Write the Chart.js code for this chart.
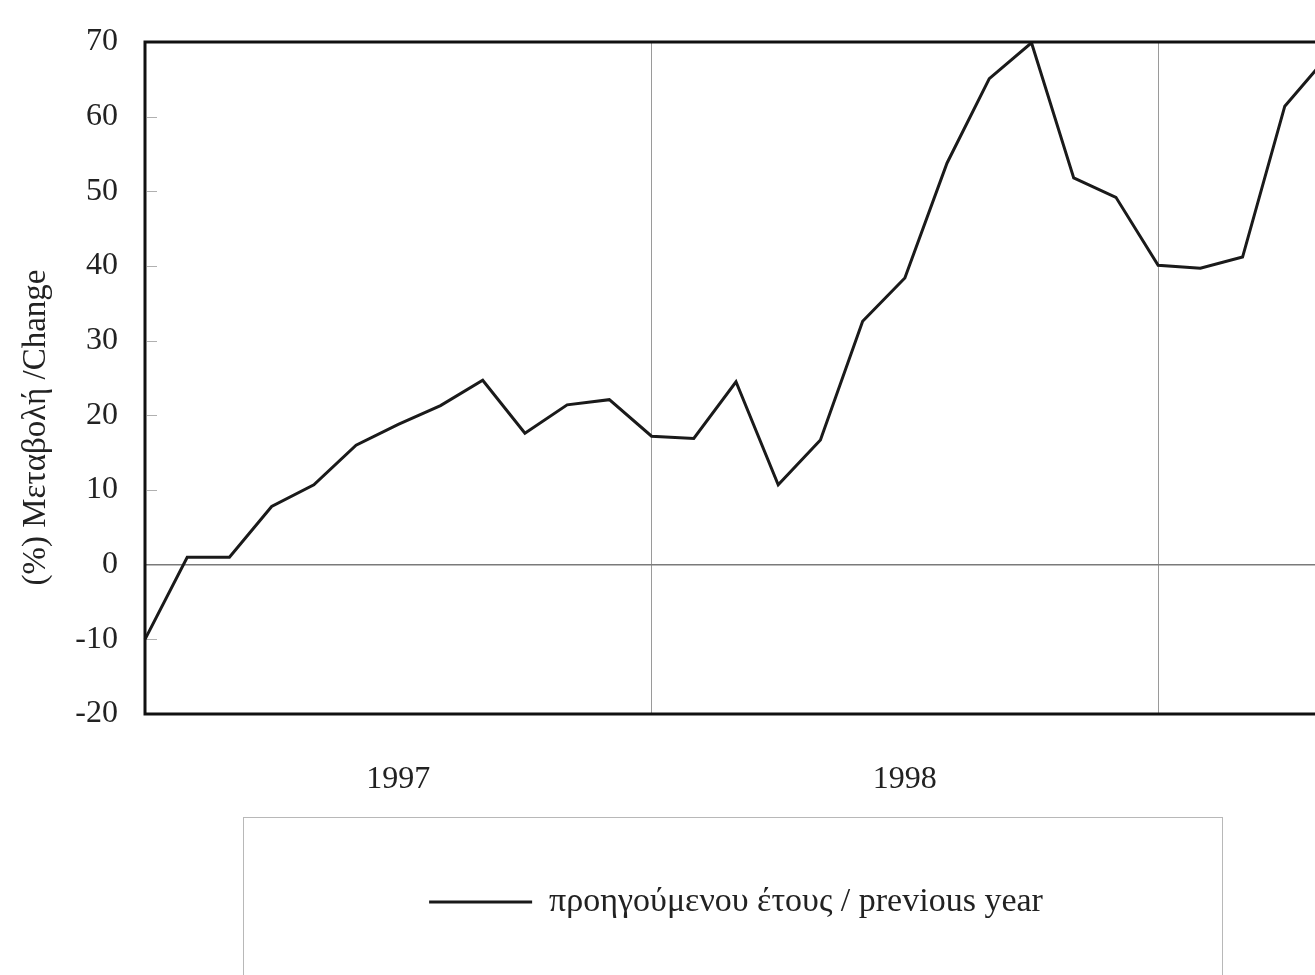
<!DOCTYPE html>
<html>
<head>
<meta charset="utf-8">
<script src="https://cdn.jsdelivr.net/npm/chart.js@4/dist/chart.umd.min.js"></script>
<style>
    html, body { margin: 0; padding: 0; background: #fff; overflow: hidden; }
    #wrap { position: relative; width: 1329px; height: 975px; }
    #legendFrame {
        position: absolute; left: 243px; top: 817px; width: 978px; height: 200px;
        border: 1px solid #b8b8b8; pointer-events: none;
    }
</style>
</head>
<body>
<div id="wrap">
    <canvas id="changeChart"></canvas>
    <div id="legendFrame"></div>
</div>
<script>
// Μηνιαία μεταβολή (%) σε σχέση με τον ίδιο μήνα του προηγούμενου έτους
const months = [
    "1997-01", "1997-02", "1997-03", "1997-04", "1997-05", "1997-06",
    "1997-07", "1997-08", "1997-09", "1997-10", "1997-11", "1997-12",
    "1998-01", "1998-02", "1998-03", "1998-04", "1998-05", "1998-06",
    "1998-07", "1998-08", "1998-09", "1998-10", "1998-11", "1998-12",
    "1999-01", "1999-02", "1999-03", "1999-04", "1999-05",
];
const changeValues = [
    -10, 1, 1, 7.8, 10.7, 16, 18.8, 21.3, 24.7, 17.6, 21.4, 22.1,
    17.2, 16.9, 24.5, 10.7, 16.7, 32.6, 38.4, 53.8, 65.1, 69.9, 51.8, 49.2,
    40.1, 39.7, 41.2, 61.4, 68,
];
const yearLabels = ["1997", "1998"];
const yearLabelAt = [6, 18];      // θέση ετικέτας (μέσο του έτους)
const yearBoundaries = [12, 24];  // κάθετες γραμμές αλλαγής έτους
const yTicks = { min: -20, max: 70, step: 10 };
const seriesLabel = "προηγούμενου έτους / previous year";

const serif = "'Liberation Serif', 'Times New Roman', serif";
const textColor = "#222";
const clear = "rgba(0,0,0,0)";

// Πλαίσιο γύρω από την περιοχή του γραφήματος + μικρά εσωτερικά ticks
const framePlugin = {
    id: "frame",
    afterDatasetsDraw(chart) {
        const { ctx, chartArea: a, scales } = chart;
        ctx.save();
        ctx.strokeStyle = "#b0b0b0";
        ctx.lineWidth = 1;
        scales.y.ticks.forEach((t) => {
            if (t.value === yTicks.min || t.value === yTicks.max || t.value === 0) return;
            const y = Math.round(scales.y.getPixelForValue(t.value)) + 0.5;
            ctx.beginPath();
            ctx.moveTo(a.left + 2, y);
            ctx.lineTo(a.left + 12, y);
            ctx.stroke();
        });
        ctx.strokeStyle = "#111";
        ctx.lineWidth = 3;
        ctx.strokeRect(a.left, a.top, a.right - a.left + 10, a.bottom - a.top);
        ctx.restore();
    },
};

document.addEventListener("DOMContentLoaded", function () {
    if (typeof Chart === "undefined") {
        console.error("Chart.js δεν φορτώθηκε");
        return;
    }
    const canvas = document.getElementById("changeChart");

    new Chart(canvas.getContext("2d"), {
        type: "line",
        data: {
            labels: months,
            datasets: [
                {
                    label: seriesLabel,
                    data: changeValues,
                    borderColor: "#1a1a1a",
                    backgroundColor: "#1a1a1a",
                    borderWidth: 3,
                    pointRadius: 0,
                    tension: 0,
                },
            ],
        },
        options: {
            responsive: true,
            maintainAspectRatio: false,
            animation: false,
            layout: { padding: { top: 42, left: 0, right: 0, bottom: 46 } },
            scales: {
                x: {
                    type: "category",
                    offset: false,
                    afterFit: (scale) => { scale.height = 161; },
                    grid: {
                        drawTicks: true,
                        tickLength: 44,
                        tickColor: clear,
                        lineWidth: 1,
                        color: (ctx) => yearBoundaries.includes(ctx.index) ? "#9a9a9a" : clear,
                    },
                    border: { display: false },
                    ticks: {
                        autoSkip: false,
                        maxRotation: 0,
                        padding: 2,
                        color: textColor,
                        font: { family: serif, size: 32 },
                        callback: function (value, index) {
                            const k = yearLabelAt.indexOf(index);
                            return k >= 0 ? yearLabels[k] : "";
                        },
                    },
                },
                y: {
                    min: yTicks.min,
                    max: yTicks.max,
                    afterFit: (scale) => { scale.width = 145; },
                    grid: {
                        drawTicks: true,
                        tickLength: 24,
                        tickColor: clear,
                        lineWidth: 1.5,
                        color: (ctx) => (ctx.tick && ctx.tick.value === 0 ? "#7a7a7a" : clear),
                    },
                    border: { display: false },
                    ticks: {
                        stepSize: yTicks.step,
                        padding: 3,
                        color: textColor,
                        font: { family: serif, size: 32 },
                    },
                    title: {
                        display: true,
                        text: "(%) Μεταβολή /Change\u2003\u2003\u2003",
                        color: textColor,
                        padding: { top: 17, bottom: 0 },
                        font: { family: serif, size: 33 },
                    },
                },
            },
            plugins: {
                legend: {
                    position: "bottom",
                    fullSize: false,
                    labels: {
                        boxWidth: 103,
                        boxHeight: 3,
                        padding: 10,
                        color: textColor,
                        font: { family: serif, size: 34 },
                        generateLabels: function (chart) {
                            const items = Chart.defaults.plugins.legend.labels.generateLabels(chart);
                            return items.map((it) => Object.assign(it, { lineWidth: 0, fillStyle: "#1a1a1a" }));
                        },
                    },
                },
                tooltip: { enabled: false },
            },
        },
        plugins: [framePlugin],
    });
});
</script>
</body>
</html>
